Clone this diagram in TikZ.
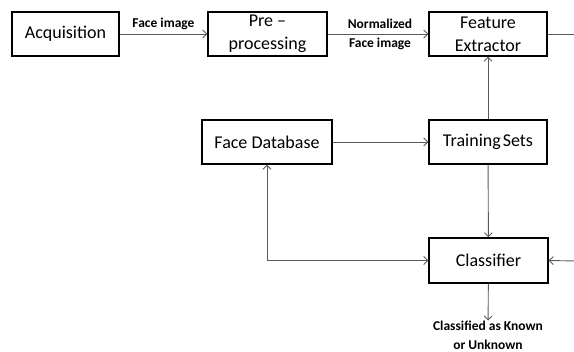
\documentclass[tikz,border=0pt]{standalone}
\usepackage{fontspec}
\setmainfont{Carlito}
\usetikzlibrary{arrows.meta,positioning,calc}

\tikzset{
  block/.style={draw=black, line width=1.3pt, align=center, inner sep=1pt,
    font=\fontsize{18}{23}\selectfont},
  link/.style={draw=black!65, line width=0.9pt, -{Straight Barb[length=4pt,width=8pt]}},
  lbl/.style={font=\bfseries\fontsize{13.5}{19}\selectfont, align=center, inner sep=0pt}
}

\begin{document}
\begin{tikzpicture}[x=1pt, y=-1pt]
  \useasboundingbox (0,0) rectangle (574,352);

  % Top row
  \node[block, minimum width=107pt, minimum height=44pt] (acq) at (65.5,34) {Acquisition};
  \node[block, minimum width=119pt, minimum height=44pt] (pre) at (267.5,34) {Pre --\\processing};
  \node[block, minimum width=118pt, minimum height=44pt] (feat) at (488,34) {Feature\\Extractor};

  % Middle row
  \node[block, minimum width=130pt, minimum height=44pt] (db) at (267,142) {Face Database};
  \node[block, minimum width=118pt, minimum height=44pt] (train) at (488,142) {Training\hspace{2pt}Sets};

  % Bottom
  \node[block, minimum width=119pt, minimum height=45pt] (cls) at (488.5,260.5) {Classifier};
  \node[lbl] (out) at (488,335) {Classified as Known\\or Unknown};

  % Free ends at the right margin
  \coordinate (featout) at (576,34);
  \coordinate (clsin) at (576,261);

  % Connectors
  \draw[link] (acq) -- (pre) node[lbl, midway, above=4pt] {Face image};
  \draw[link] (pre) -- (feat) node[lbl, midway, xshift=2pt] {Normalized\\Face image};
  \draw[draw=black!65, line width=0.9pt] (feat) -- (featout);
  \draw[link] (train) -- (feat);
  \draw[link] (db) -- (train);
  \draw[link] (train) -- (cls);
  \draw[link, {Straight Barb[length=4pt,width=8pt]}-{Straight Barb[length=4pt,width=8pt]}]
    (db.south) -- (db.south |- cls.west) -- (cls.west);
  \draw[link] (clsin) -- (cls.east);
  \draw[link] (cls) -- (out);
\end{tikzpicture}
\end{document}
